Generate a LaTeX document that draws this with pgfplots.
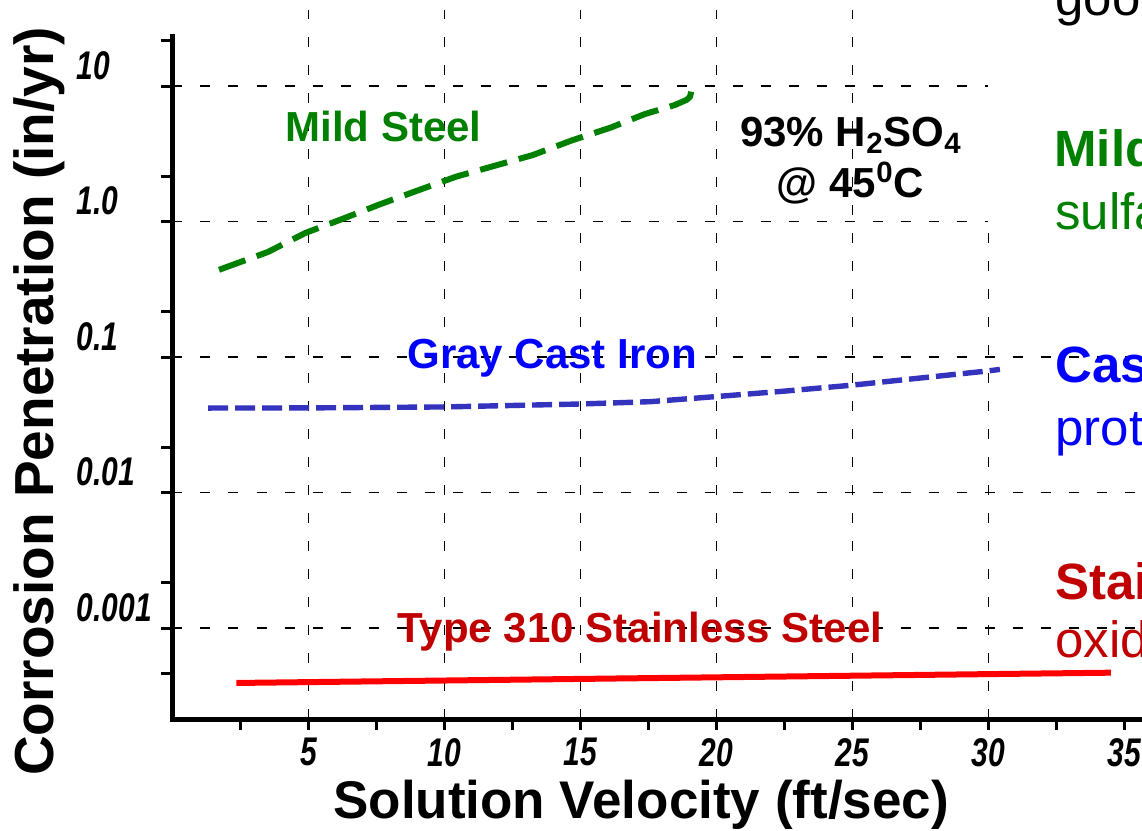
\documentclass[border=0pt]{standalone}
\usepackage{fontspec}
\setmainfont{Liberation Sans}
\usepackage{graphicx}
\usepackage{pgfplots}
\pgfplotsset{compat=1.18}
\definecolor{mgreen}{RGB}{0,128,0}
\definecolor{tblue}{RGB}{0,0,255}
\definecolor{lblue}{RGB}{51,51,190}
\definecolor{lred}{RGB}{255,0,0}
\definecolor{tred}{RGB}{192,0,0}
\newcommand{\tl}[1]{\scalebox{0.75}[1]{\fontsize{20}{20}\selectfont\bfseries\itshape #1}}
\tikzset{gridl/.style={black, line width=0.9pt, dash pattern=on 5pt off 9pt}}
\begin{document}
\begin{tikzpicture}
\useasboundingbox (0,0) rectangle (571pt,415.5pt);
\clip (0,0) rectangle (571pt,415.5pt);
\begin{axis}[
  at={(86.25pt,56pt)}, anchor=south west,
  scale only axis, width=489.6pt, height=341.5pt,
  xmin=0, xmax=36, ymode=log, ymin=2.13e-4, ymax=23.39,
  axis x line*=bottom, axis y line*=left,
  axis line style={-, line width=2.5pt, black, line cap=rect},
  xtick={2.5,5,7.5,10,12.5,15,17.5,20,22.5,25,27.5,30,32.5,35},
  xticklabels={,\tl{5},,\tl{10},,\tl{15},,\tl{20},,\tl{25},,\tl{30},,\tl{35}},
  ytick={0.001,0.01,0.1,1,10},
  yticklabels={\tl{0.001},\tl{0.01},\tl{0.1},\tl{1.0},\tl{10}},
  minor ytick={0.000464,0.00215,0.0215,0.215,2.15,21.5},
  tick align=outside,
  major tick length=5.5pt, minor tick length=5.5pt,
  tick style={black, line width=1.5pt},
  clip=false,
  xticklabel style={anchor=north, inner sep=0pt, yshift=-4pt},
  yticklabel style={anchor=south west, inner sep=0pt, xshift=-42.5pt, yshift=3pt},
  xlabel={Solution Velocity (ft/sec)},
  ylabel={Corrosion Penetration (in/yr)},
  label style={inner sep=0pt},
  xlabel style={font=\fontsize{26.5}{26.5}\selectfont\bfseries, at={(axis description cs:0.4785,-0.145)}, anchor=base},
  ylabel style={font=\fontsize{27.5}{27.5}\selectfont\bfseries, at={(axis description cs:-0.122,0.4649)}, anchor=base},
]
% grid
\pgfplotsinvokeforeach{5,10,15,20,25}{\draw[gridl] (axis cs:#1,2.13e-4) -- (axis cs:#1,36.4);}
\draw[gridl] (axis cs:30,2.13e-4) -- (axis cs:30,1);
\draw[gridl] (axis cs:0,10) -- (axis cs:30,10);
\draw[gridl] (axis cs:0,1) -- (axis cs:30,1);
\draw[gridl] (axis cs:0,0.1) -- (axis cs:36,0.1);
\draw[gridl] (axis cs:0,0.01) -- (axis cs:36,0.01);
\draw[gridl] (axis cs:0,0.001) -- (axis cs:36,0.001);
% Mild steel
\addplot[mgreen, line width=3pt, dash pattern=on 14pt off 6pt, line join=round] coordinates {
(1.71,0.44) (3.51,0.596) (4.88,0.822) (6.22,1.04) (7.63,1.34) (9.0,1.69)
(10.42,2.14) (11.82,2.57) (13.24,3.09) (14.64,3.94) (16.13,4.95) (17.37,6.21)
(18.47,7.24) (18.9,7.9) (19.03,8.34) (19.09,9.6)};
% Gray cast iron
\addplot[lblue, line width=2.7pt, dash pattern=on 10pt off 3.5pt] coordinates {
(1.31,0.042) (5,0.0421) (10,0.0428) (15,0.0450) (17.56,0.0468) (19.96,0.051)
(22.5,0.056) (25,0.062) (27.5,0.070) (30,0.079) (30.42,0.081)};
% Type 310 stainless
\addplot[lred, line width=3pt] coordinates {(2.35,3.93e-4) (34.5,4.68e-4)};
\end{axis}
\begin{scope}[x=0.5pt, y=-0.5pt, yshift=415.5pt]
\node[anchor=base west, inner sep=0pt, text=mgreen, font=\fontsize{21}{21}\selectfont\bfseries] at (285,142) {Mild Steel};
\node[anchor=base west, inner sep=0pt, text=tblue, font=\fontsize{21}{21}\selectfont\bfseries] at (407,369) {Gray Cast Iron};
\node[anchor=base west, inner sep=0pt, text=tred, font=\fontsize{21}{21}\selectfont\bfseries] at (397,643) {Type 310 Stainless Steel};
\node[anchor=base, inner sep=0pt, font=\fontsize{21}{21}\selectfont\bfseries] at (851,147) {93\% H\textsubscript{2}SO\textsubscript{4}};
\node[anchor=base, inner sep=0pt, font=\fontsize{21}{21}\selectfont\bfseries] at (850.5,198) {@ 45\textsuperscript{0}C};
% right-hand notes (cut off by the frame)
\node[anchor=base west, inner sep=0pt, font=\fontsize{25.5}{25.5}\selectfont] at (1055,15.6) {good};
\node[anchor=base west, inner sep=0pt, text=mgreen, font=\fontsize{25.5}{25.5}\selectfont\bfseries] at (1054,167) {Mild Steel:};
\node[anchor=base west, inner sep=0pt, text=mgreen, font=\fontsize{25.5}{25.5}\selectfont] at (1055,229.6) {sulfate film};
\node[anchor=base west, inner sep=0pt, text=tblue, font=\fontsize{25.5}{25.5}\selectfont\bfseries] at (1055,383) {Cast Iron:};
\node[anchor=base west, inner sep=0pt, text=tblue, font=\fontsize{25.5}{25.5}\selectfont] at (1055,446) {protective film};
\node[anchor=base west, inner sep=0pt, text=tred, font=\fontsize{25.5}{25.5}\selectfont\bfseries] at (1055,600) {Stainless:};
\node[anchor=base west, inner sep=0pt, text=tred, font=\fontsize{25.5}{25.5}\selectfont] at (1055,657.6) {oxide film};
\end{scope}
\end{tikzpicture}
\end{document}
